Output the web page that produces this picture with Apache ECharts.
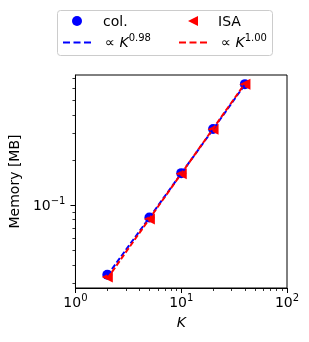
<!DOCTYPE html>
<html><head><meta charset="utf-8">
<script src="https://cdn.jsdelivr.net/npm/echarts@6/dist/echarts.min.js"></script>
<style>html,body{margin:0;padding:0;background:#fff}#c{width:309px;height:342px}</style>
</head><body><div id="c"></div>
<script>
const K = [2, 5, 10, 20, 40];
const colMemory = [0.0343, 0.0827, 0.1637, 0.323, 0.643];
const isaMemory = [0.0331, 0.0810, 0.1620, 0.322, 0.641];
const colFit = [0.0340, 0.0826, 0.1628, 0.3209, 0.6393];
const isaFit = [0.0324, 0.0811, 0.1622, 0.3244, 0.6488];
const xMajorTicks = [1, 10, 100];
const xMinorTicks = [2, 3, 4, 5, 6, 7, 8, 9, 20, 30, 40, 50, 60, 70, 80, 90];
const yMajorTicks = [0.1];
const yMinorTicks = [0.03, 0.04, 0.05, 0.06, 0.07, 0.08, 0.09, 0.2, 0.3, 0.4, 0.5, 0.6, 0.7];
const names = ['col.', 'ISA', '∝K0.98', '∝K1.00'];
const legendLabels = {
  'col.': '{p7| }{b|col.}',
  'ISA': '{p6| }{b|ISA}',
  '∝K0.98': '{p9| }{b|∝ }{i|K}{s|0.98}',
  '∝K1.00': '{p9| }{b|∝ }{i|K}{s|1.00}'
};

const FONT = 'DejaVu Sans';
const X_MIN = 1, X_MAX = 100, Y_MIN = 0.028, Y_MAX = 0.74;
const supRich = {
  p6: {width: 6, lineHeight: 16, fontSize: 14},
  p7: {width: 7, lineHeight: 16, fontSize: 14},
  p9: {width: 9, lineHeight: 16, fontSize: 14},
  b: {fontSize: 14, fontFamily: FONT, color: '#000', verticalAlign: 'bottom', lineHeight: 16},
  i: {fontSize: 14, fontFamily: FONT, fontStyle: 'italic', color: '#000', verticalAlign: 'bottom', lineHeight: 16},
  s: {fontSize: 10, fontFamily: FONT, color: '#000', verticalAlign: 'bottom', lineHeight: 10, padding: [0, 0, 7, 0]}
};
function powLabel(v) {
  const e = Math.round(Math.log10(v));
  return '{b|10}{s|' + (e < 0 ? '\u2212' + (-e) : e) + '}';
}
const pairs = (xs, ys) => xs.map((x, i) => [x, ys[i]]);
const tri = 'path://M0,5L10,0L10,10Z';
const dash = 'path://M0,0h7v2h-7z M10.5,0h7v2h-7z M21,0h7v2h-7z';

function legendItem(name, left, top, icon, color) {
  return {
    data: [{name: name, icon: icon, itemStyle: {color: color, borderWidth: 0, opacity: 1}}],
    left: left, top: top, padding: 0, itemWidth: 28, itemHeight: 10,
    selectedMode: false,
    formatter: n => legendLabels[n],
    textStyle: {fontSize: 14, fontFamily: FONT, color: '#000', rich: supRich}
  };
}

const chart = echarts.init(document.getElementById('c'), null, {renderer: 'canvas'});
chart.setOption({
  animation: false,
  backgroundColor: '#fff',
  grid: {left: 72, right: 22, top: 75, bottom: 54, show: true, borderColor: '#000', borderWidth: 1},
  graphic: [{
    type: 'rect', left: 57, top: 10, z: 0,
    shape: {width: 215, height: 45, r: 3},
    style: {fill: '#fff', stroke: '#cccccc', lineWidth: 1}
  }],
  legend: [
    legendItem(names[0], 72, 14, 'circle', '#0000ff'),
    legendItem(names[1], 188, 14, tri, '#ff0000'),
    legendItem(names[2], 63, 33.5, dash, '#0000ff'),
    legendItem(names[3], 179, 33.5, dash, '#ff0000')
  ],
  xAxis: [{
    type: 'log', logBase: 10, min: X_MIN, max: X_MAX, gridIndex: 0, position: 'bottom',
    name: 'K', nameLocation: 'middle', nameGap: 28,
    nameTextStyle: {fontSize: 14, fontFamily: FONT, fontStyle: 'italic', color: '#000'},
    axisLine: {show: true, lineStyle: {color: '#000', width: 1}},
    axisTick: {show: true, length: 5, customValues: xMajorTicks, lineStyle: {color: '#000', width: 1}},
    axisLabel: {show: true, margin: 6, customValues: xMajorTicks, formatter: powLabel, rich: supRich},
    splitLine: {show: false}, minorTick: {show: false}
  }, {
    type: 'log', logBase: 10, min: X_MIN, max: X_MAX, gridIndex: 0, position: 'bottom',
    axisLine: {show: false},
    axisTick: {show: true, length: 3, customValues: xMinorTicks, lineStyle: {color: '#000', width: 0.8}},
    axisLabel: {show: false}, splitLine: {show: false}
  }],
  yAxis: [{
    type: 'log', logBase: 10, min: Y_MIN, max: Y_MAX, gridIndex: 0, position: 'left',
    name: 'Memory [MB]', nameLocation: 'middle', nameGap: 48, nameRotate: 90,
    nameTextStyle: {fontSize: 14, fontFamily: FONT, color: '#000'},
    axisLine: {show: true, lineStyle: {color: '#000', width: 1}},
    axisTick: {show: true, length: 5, customValues: yMajorTicks, lineStyle: {color: '#000', width: 1}},
    axisLabel: {show: true, margin: 10, customValues: yMajorTicks, formatter: powLabel, rich: supRich},
    splitLine: {show: false}
  }, {
    type: 'log', logBase: 10, min: Y_MIN, max: Y_MAX, gridIndex: 0, position: 'left',
    axisLine: {show: false},
    axisTick: {show: true, length: 3, customValues: yMinorTicks, lineStyle: {color: '#000', width: 0.8}},
    axisLabel: {show: false}, splitLine: {show: false}
  }],
  series: [{
    name: names[0], type: 'scatter', xAxisIndex: 0, yAxisIndex: 0,
    symbol: 'circle', symbolSize: 10, itemStyle: {color: '#0000ff', opacity: 1},
    data: pairs(K, colMemory)
  }, {
    name: names[2], type: 'line', xAxisIndex: 0, yAxisIndex: 0,
    symbol: 'none', lineStyle: {color: '#0000ff', width: 2, type: [5.5, 2.4]},
    data: pairs(K, colFit)
  }, {
    name: names[1], type: 'scatter', xAxisIndex: 0, yAxisIndex: 0,
    symbol: tri, symbolSize: 11, itemStyle: {color: '#ff0000', opacity: 1},
    data: pairs(K, isaMemory)
  }, {
    name: names[3], type: 'line', xAxisIndex: 0, yAxisIndex: 0,
    symbol: 'none', lineStyle: {color: '#ff0000', width: 2, type: [5.5, 2.4]},
    data: pairs(K, isaFit)
  }]
});
</script></body></html>
